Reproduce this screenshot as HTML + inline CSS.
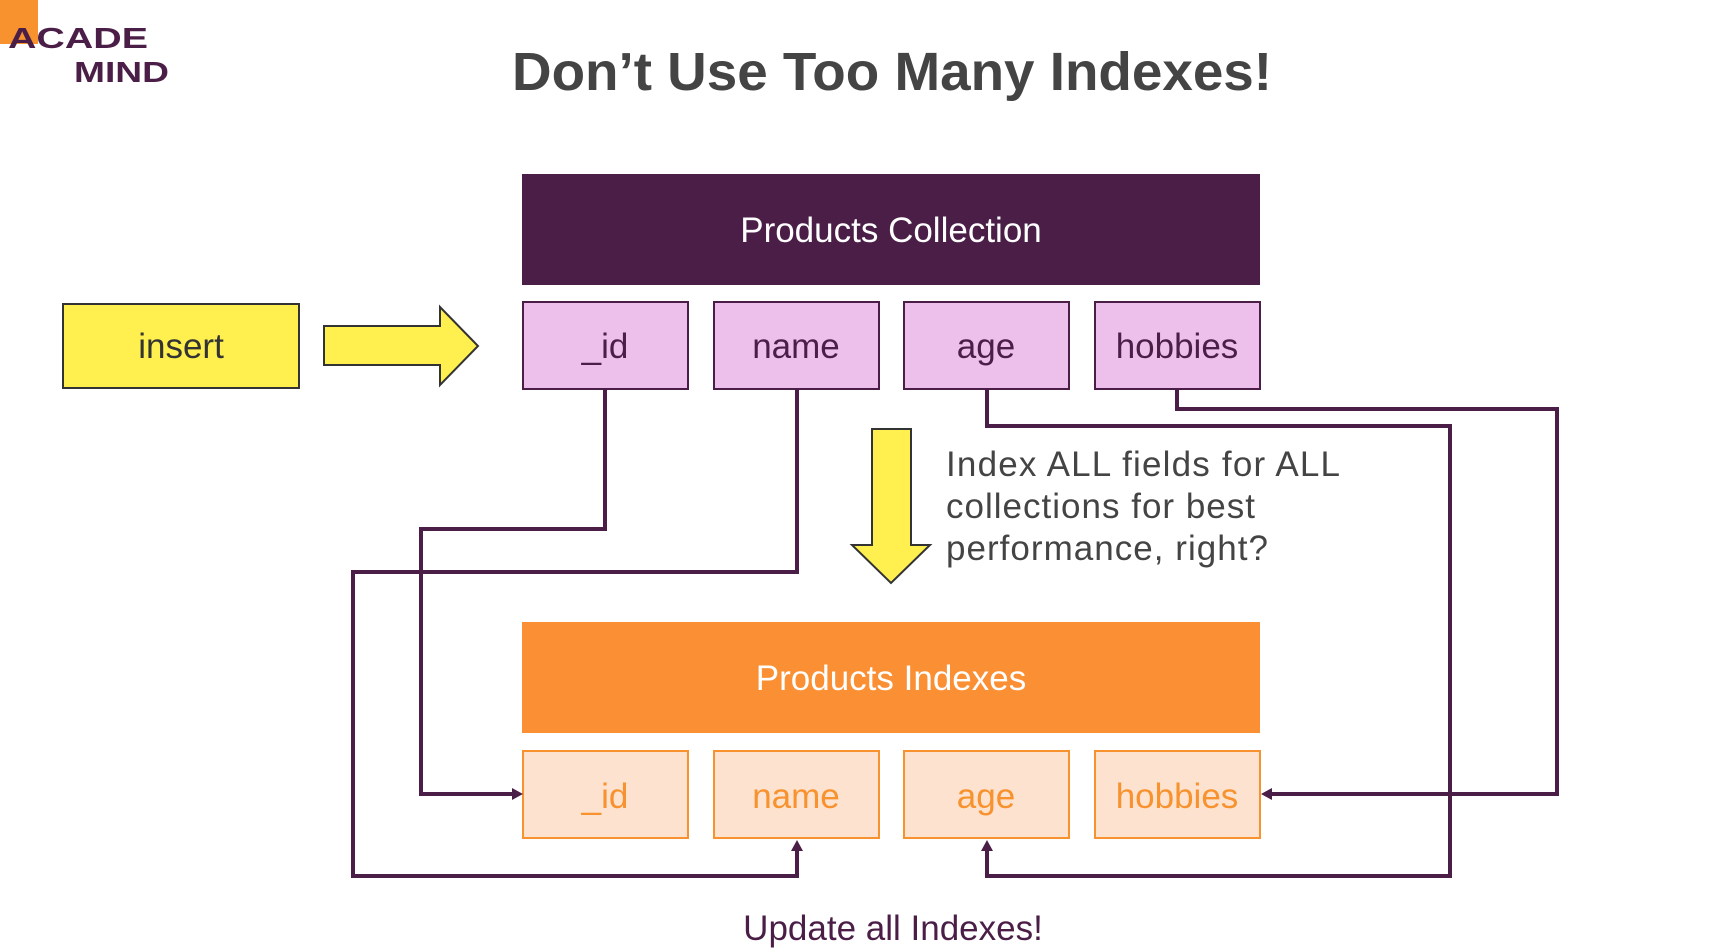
<!DOCTYPE html>
<html><head><meta charset="utf-8"><style>
html,body{margin:0;padding:0;background:#fff;}
svg{display:block;}
text{font-family:"Liberation Sans",sans-serif;}
</style></head><body>
<svg width="1726" height="952" viewBox="0 0 1726 952" xmlns="http://www.w3.org/2000/svg">
<rect width="1726" height="952" fill="#fff"/>
<!-- logo -->
<rect x="0" y="0" width="38" height="44" fill="#f7922e"/>
<text x="8" y="48" font-size="29" font-weight="bold" fill="#4a1e47" textLength="140" lengthAdjust="spacingAndGlyphs">ACADE</text>
<text x="74" y="82" font-size="29" font-weight="bold" fill="#4a1e47" textLength="95" lengthAdjust="spacingAndGlyphs">MIND</text>
<!-- title -->
<text x="512" y="90" font-size="54" font-weight="bold" fill="#444" textLength="760" lengthAdjust="spacingAndGlyphs">Don’t Use Too Many Indexes!</text>
<!-- collection -->
<rect x="522" y="174" width="738" height="111" fill="#4a1e47"/>
<text x="891" y="242" font-size="35" fill="#fff" text-anchor="middle">Products Collection</text>
<g fill="#ecc0eb" stroke="#4a1e47" stroke-width="2">
<rect x="523" y="302" width="165" height="87"/>
<rect x="714" y="302" width="165" height="87"/>
<rect x="904" y="302" width="165" height="87"/>
<rect x="1095" y="302" width="165" height="87"/>
</g>
<g font-size="35" fill="#4a1e47" text-anchor="middle">
<text x="605" y="358">_id</text><text x="796" y="358">name</text><text x="986" y="358">age</text><text x="1177" y="358">hobbies</text>
</g>
<!-- insert -->
<rect x="63" y="304" width="236" height="84" fill="#fff04f" stroke="#333" stroke-width="2"/>
<text x="181" y="358" font-size="35" fill="#333" text-anchor="middle">insert</text>
<polygon points="324,326 440,326 440,307 478,346 440,385 440,365 324,365" fill="#fff04f" stroke="#333" stroke-width="2"/>
<!-- down arrow -->
<polygon points="872,429 911,429 911,545 930,545 891,583 852,545 872,545" fill="#fff04f" stroke="#333" stroke-width="2"/>
<g font-size="35" fill="#444" lengthAdjust="spacingAndGlyphs">
<text x="946" y="476" textLength="394">Index ALL fields for ALL</text>
<text x="946" y="518" textLength="309">collections for best</text>
<text x="946" y="560" textLength="322">performance, right?</text>
</g>
<!-- indexes -->
<rect x="522" y="622" width="738" height="111" fill="#fb8f33"/>
<text x="891" y="690" font-size="35" fill="#fff" text-anchor="middle">Products Indexes</text>
<g fill="#fde3cf" stroke="#f7922e" stroke-width="2">
<rect x="523" y="751" width="165" height="87"/>
<rect x="714" y="751" width="165" height="87"/>
<rect x="904" y="751" width="165" height="87"/>
<rect x="1095" y="751" width="165" height="87"/>
</g>
<g font-size="35" fill="#f7922e" text-anchor="middle">
<text x="605" y="808">_id</text><text x="796" y="808">name</text><text x="986" y="808">age</text><text x="1177" y="808">hobbies</text>
</g>
<!-- connectors -->
<g fill="none" stroke="#4a1e47" stroke-width="4">
<polyline points="605,389 605,529 421,529 421,794 514,794"/>
<polyline points="797,389 797,572 353,572 353,876 797,876 797,848"/>
<polyline points="987,389 987,426 1450,426 1450,876 987,876 987,848"/>
<polyline points="1177,389 1177,409 1557,409 1557,794 1270,794"/>
</g>
<g fill="#4a1e47">
<polygon points="523,794 512,788 512,800"/>
<polygon points="797,840 791,851 803,851"/>
<polygon points="987,840 981,851 993,851"/>
<polygon points="1261,794 1272,788 1272,800"/>
</g>
<text x="893" y="940" font-size="35" fill="#4a1e47" text-anchor="middle">Update all Indexes!</text>
</svg>
</body></html>
